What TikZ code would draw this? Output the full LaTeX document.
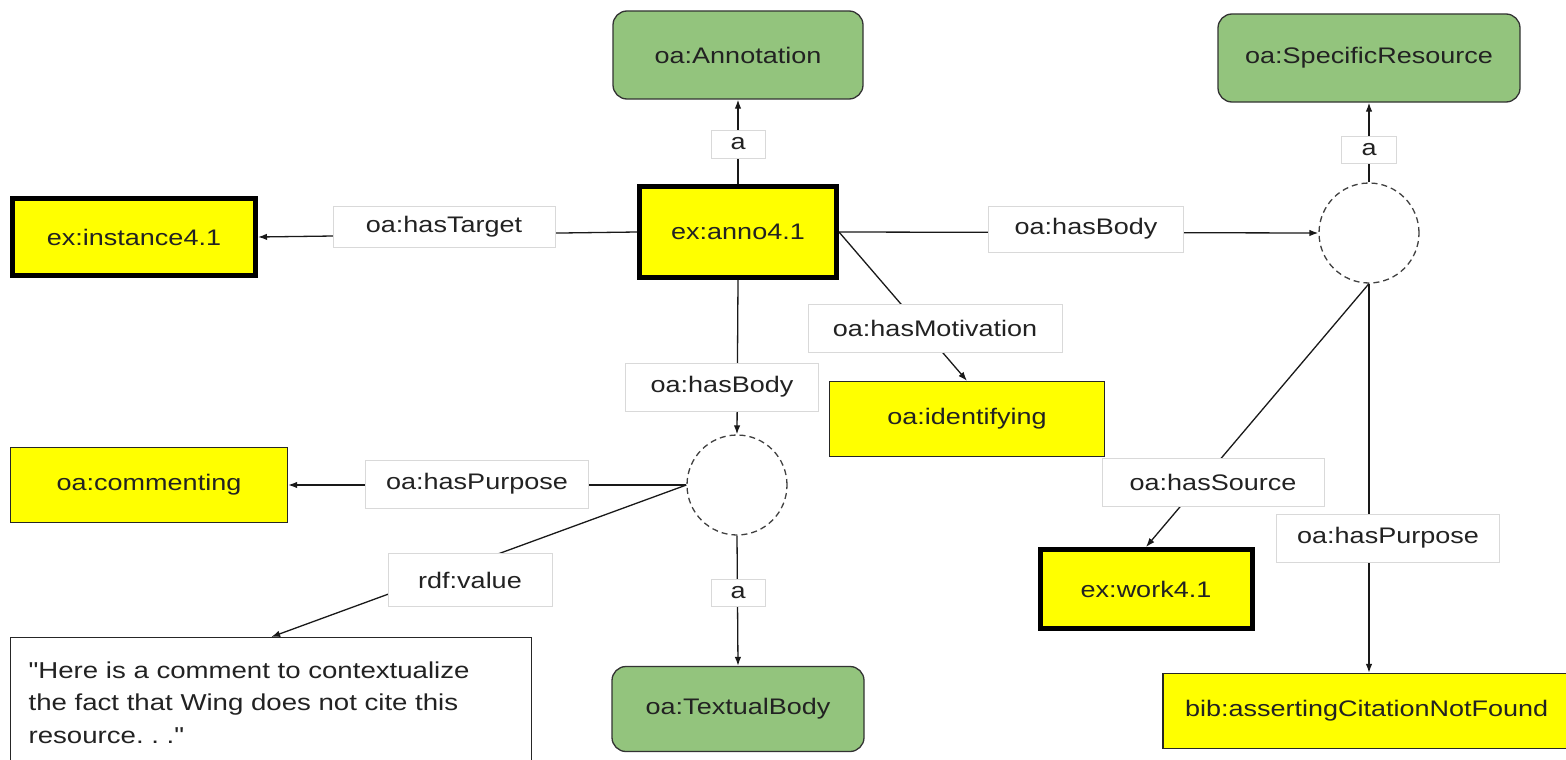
\documentclass[tikz,border=0pt]{standalone}
\usepackage{fontspec}
\setmainfont{Liberation Sans}[FakeStretch=1.2, Ligatures=TeXOff]
\usetikzlibrary{arrows.meta}

\definecolor{oagreen}{HTML}{93C47D}
\definecolor{oayellow}{HTML}{FFFF00}
\definecolor{ink}{HTML}{222222}
\definecolor{lblline}{HTML}{D9D9D9}

\tikzset{
  base/.style={font=\fontsize{22.5}{32.5}\selectfont, text=ink, inner sep=0pt},
  classbox/.style={base, rounded corners=14pt, fill=oagreen, draw=black!80, line width=1.3pt},
  valbox/.style={base, fill=oayellow, draw=black!85, line width=1.3pt},
  resbox/.style={base, fill=oayellow, draw=black, line width=5pt},
  blank/.style={circle, draw=black!75, line width=1.3pt, dash pattern=on 6pt off 4pt,
                minimum size=100pt, inner sep=0pt},
  lbl/.style={base, fill=white, draw=lblline, line width=0.8pt},
  rel/.style={line width=1.3pt, draw=black!90, -{Latex[length=9pt,width=6.5pt]}},
}

\begin{document}
\begin{tikzpicture}[x=1pt, y=-1pt]
\useasboundingbox (0,0) rectangle (1566,760);
\clip (0,0) rectangle (1566,760);

% resources and classes
\node[classbox, minimum width=250pt, minimum height=88pt] (annot) at (738,55) {oa:Annotation};
\node[classbox, minimum width=302pt, minimum height=88pt] (spec) at (1369,58) {oa:SpecificResource};
\node[resbox, minimum width=243pt, minimum height=77pt] (inst) at (134,237) {ex:instance4.1};
\node[resbox, minimum width=197pt, minimum height=91pt] (anno) at (738,232) {ex:anno4.1};
\node[blank] (c1) at (1369,233) {};
\node[blank] (c2) at (737,485) {};
\node[valbox, minimum width=275pt, minimum height=75pt] (ident) at (967,419) {oa:identifying};
\node[valbox, minimum width=277pt, minimum height=75pt] (comm) at (149,485) {oa:commenting};
\node[base, font=\fontsize{23}{32.5}\selectfont, draw=black!85, line width=1.3pt, fill=white,
      anchor=north west, text width=485pt, align=left, inner xsep=18pt, inner ysep=24pt,
      minimum width=521pt] (cbox) at (10,637)
  {"Here is a comment to contextualize\\the fact that Wing does not cite this\\resource.~.~."};
\node[classbox, minimum width=252pt, minimum height=85pt] (tb) at (738,709) {oa:TextualBody};
\node[resbox, minimum width=212pt, minimum height=79pt] (work) at (1146,589) {ex:work4.1};
\node[valbox, minimum width=412pt, minimum height=75pt, text width=368pt, align=left,
      inner xsep=22pt] (bib) at (1369,711) {bib:assertingCitationNotFound};

% relations
\draw[rel] (anno.north) -- (annot.south);
\draw[rel] (anno.west) -- (inst.east);
\draw[rel] (anno.east) -- (c1.west);
\draw[rel] (c1.north) -- (spec.south);
\draw[rel] (anno.east) -- (ident.north);
\draw[rel] (anno.south) -- (c2.north);
\draw[rel] (c2.west) -- (comm.east);
\draw[rel] (c2.west) -- (cbox.north);
\draw[rel] (c2.south) -- (tb.north);
\draw[rel] (c1.south) -- (work.north);
\draw[rel] (c1.south) -- (bib.north);

% relation labels
\node[lbl, minimum width=54pt, minimum height=28pt] (la1) at (738,144) {a};
\node[lbl, minimum width=222pt, minimum height=41pt] (lt) at (444,227) {oa:hasTarget};
\node[lbl, minimum width=195pt, minimum height=46pt] (lb1) at (1086,229) {oa:hasBody};
\node[lbl, minimum width=55pt, minimum height=27pt] (la2) at (1369,150) {a};
\node[lbl, minimum width=254pt, minimum height=48pt] (lm) at (935,328) {oa:hasMotivation};
\node[lbl, minimum width=193pt, minimum height=48pt] (lb2) at (722,387) {oa:hasBody};
\node[lbl, minimum width=223pt, minimum height=48pt] (lp1) at (477,484) {oa:hasPurpose};
\node[lbl, minimum width=164pt, minimum height=53pt] (lv) at (470,580) {rdf:value};
\node[lbl, minimum width=54pt, minimum height=27pt] (la3) at (738,593) {a};
\node[lbl, minimum width=222pt, minimum height=48pt] (ls) at (1213,482) {oa:hasSource};
\node[lbl, minimum width=223pt, minimum height=48pt] (lp2) at (1388,538) {oa:hasPurpose};
\end{tikzpicture}
\end{document}
